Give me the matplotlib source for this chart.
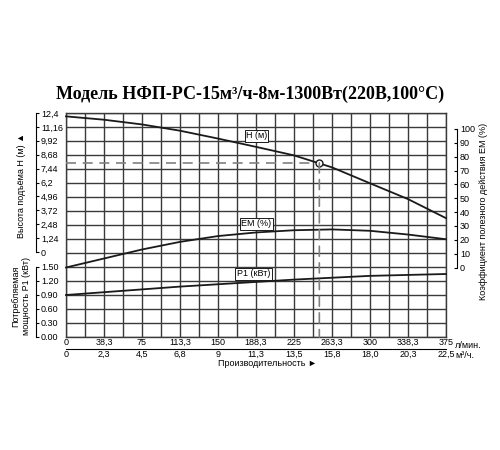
import numpy as np
import matplotlib
matplotlib.use("Agg")
import matplotlib.pyplot as plt
from matplotlib.patches import ConnectionPatch

plt.rcParams['font.family'] = ['Liberation Sans', 'DejaVu Sans']

# data (flow in l/min)
q_lmin = [0, 37.5, 75, 112.5, 150, 187.5, 225, 262.5, 300, 337.5, 375]
head_m = [12.1, 11.8, 11.38, 10.82, 10.12, 9.38, 8.62, 7.55, 6.13, 4.72, 3.02]
eff_pct = [0, 6.5, 13.0, 18.5, 22.7, 25.3, 26.9, 27.5, 26.5, 23.8, 20.4]
power_kw = [0.90, 0.96, 1.02, 1.08, 1.13, 1.18, 1.23, 1.27, 1.31, 1.33, 1.35]

q_op, h_op = 250, 7.95

h_ticks = [12.4, 11.16, 9.92, 8.68, 7.44, 6.2, 4.96, 3.72, 2.48, 1.24, 0]
h_labels = ['12,4', '11,16', '9,92', '8,68', '7,44', '6,2', '4,96', '3,72', '2,48', '1,24', '0']
p_ticks = [1.5, 1.2, 0.9, 0.6, 0.3, 0.0]
p_labels = ['1.50', '1.20', '0.90', '0.60', '0.30', '0.00']
em_ticks = list(range(0, 101, 10))

q_ticks = [0, 37.5, 75, 112.5, 150, 187.5, 225, 262.5, 300, 337.5, 375]
q_lmin_labels = ['0', '38,3', '75', '113,3', '150', '188,3', '225', '263,3', '300', '338,3', '375']
q_m3h_labels = ['0', '2,3', '4,5', '6,8', '9', '11,3', '13,5', '15,8', '18,0', '20,3', '22,5']

W, H = 500, 450
fig = plt.figure(figsize=(5, 4.5), dpi=100)

def px(x0, y0, x1, y1):
    return [x0 / W, (H - y1) / H, (x1 - x0) / W, (y1 - y0) / H]

fs = 6.5
lc = '#1a1a1a'

# grid frame
axg = fig.add_axes(px(66, 113, 446, 337))
axg.set_xlim(0, 375)
axg.set_ylim(0, 16)
axg.set_xticks(np.arange(0, 375.1, 18.75))
axg.set_yticks(np.arange(0, 17))
axg.grid(True, color='#3a3a3a', lw=1.0)
axg.tick_params(length=0, labelbottom=False, labelleft=False)
for s in axg.spines.values():
    s.set_color('#3a3a3a')
    s.set_linewidth(1.0)

def overlay(rect, ylim):
    a = fig.add_axes(rect)
    a.set_xlim(0, 375)
    a.set_ylim(*ylim)
    a.patch.set_visible(False)
    for s in a.spines.values():
        s.set_visible(False)
    a.set_xticks([])
    a.set_yticks([])
    return a

axh = overlay(px(66, 113, 446, 252), (0, 12.4))
axe = overlay(px(66, 129, 446, 267.5), (0, 100))
axp = overlay(px(66, 267, 446, 337), (0, 1.5))

axh.plot(q_lmin, head_m, color=lc, lw=1.3, clip_on=False)
axe.plot(q_lmin, eff_pct, color=lc, lw=1.3, clip_on=False)
axp.plot(q_lmin, power_kw, color=lc, lw=1.3, clip_on=False)

# duty point
dash = dict(color='#808080', lw=1.2, dashes=(6, 4))
axh.plot([0, q_op], [h_op, h_op], **dash)
con = ConnectionPatch(xyA=(q_op, h_op), coordsA=axh.transData,
                      xyB=(q_op, 0), coordsB=axg.transData,
                      color='#808080', lw=1.2, linestyle=(0, (6, 4)))
fig.add_artist(con)
axh.plot([q_op], [h_op], 'o', ms=5, mfc='white', mec=lc, mew=1.0, zorder=5)

box = dict(boxstyle='square,pad=0.15', fc='white', ec=lc, lw=0.7)
axh.text(188, 10.35, 'Н (м)', fontsize=fs, ha='center', va='center', bbox=box)
axe.text(188, 31.5, 'ЕМ (%)', fontsize=fs, ha='center', va='center', bbox=box)
axp.text(185, 1.35, 'Р1 (кВт)', fontsize=fs, ha='center', va='center', bbox=box)

# left scales (labels to the right of a bracket line)
def left_scale(rect, ylim, ticks, labels):
    a = fig.add_axes(rect)
    a.set_ylim(*ylim)
    a.patch.set_visible(False)
    for k in ('top', 'bottom', 'left'):
        a.spines[k].set_visible(False)
    a.spines['right'].set_linewidth(0.8)
    a.set_xticks([])
    a.yaxis.tick_right()
    a.set_yticks(ticks, labels)
    a.tick_params(axis='y', direction='out', length=2.5, width=0.8, pad=1, labelsize=fs)
    return a

left_scale(px(35, 113, 36, 252), (0, 12.4), h_ticks, h_labels)
left_scale(px(35, 267, 36, 337), (0, 1.5), p_ticks, p_labels)

# right efficiency scale
axe.spines['right'].set_visible(True)
axe.spines['right'].set_position(('outward', 8))
axe.spines['right'].set_linewidth(0.8)
axe.yaxis.tick_right()
axe.set_yticks(em_ticks, [str(v) for v in em_ticks])
axe.tick_params(axis='y', direction='in', length=2.5, width=0.8, pad=2, labelsize=fs)

# flow scales
axq = fig.add_axes(px(66, 348, 446, 349))
axq.set_xlim(0, 375)
axq.patch.set_visible(False)
for k in ('top', 'left', 'right'):
    axq.spines[k].set_visible(False)
axq.spines['bottom'].set_linewidth(0.8)
axq.set_yticks([])
axq.set_xticks(q_ticks, q_m3h_labels)
axq.tick_params(axis='x', length=0, pad=0.5, labelsize=fs)
axq2 = axq.twiny()
axq2.set_xlim(0, 375)
for s in axq2.spines.values():
    s.set_visible(False)
axq2.set_xticks(q_ticks, q_lmin_labels)
axq2.tick_params(axis='x', length=0, pad=0.5, labelsize=fs)

fig.text(455 / W, 1 - 345 / H, 'л/мин.', fontsize=fs, ha='left', va='center')
fig.text(455 / W, 1 - 355 / H, 'м³/ч.', fontsize=fs, ha='left', va='center')
fig.text(267 / W, 1 - 363 / H, 'Производительность ►', fontsize=fs, ha='center', va='center')

fig.text(22 / W, 1 - 186 / H, 'Высота подъёма Н (м) ▲', fontsize=fs, rotation=90,
         ha='center', va='center')
fig.text(21 / W, 1 - 296 / H, 'Потребляемая\nмощность Р1 (кВт)', fontsize=fs, rotation=90,
         ha='center', va='center', multialignment='center', linespacing=1.3)
fig.text(484 / W, 1 - 211 / H, 'Коэффициент полезного действия ЕМ (%)', fontsize=fs,
         rotation=90, ha='center', va='center')

fig.text(0.5, 1 - 94 / H, 'Модель НФП-РС-15м³/ч-8м-1300Вт(220В,100°С)',
         fontsize=13, fontweight='bold', family=['Liberation Serif', 'DejaVu Serif'],
         ha='center', va='center')

fig.savefig('out.png', dpi=100)
